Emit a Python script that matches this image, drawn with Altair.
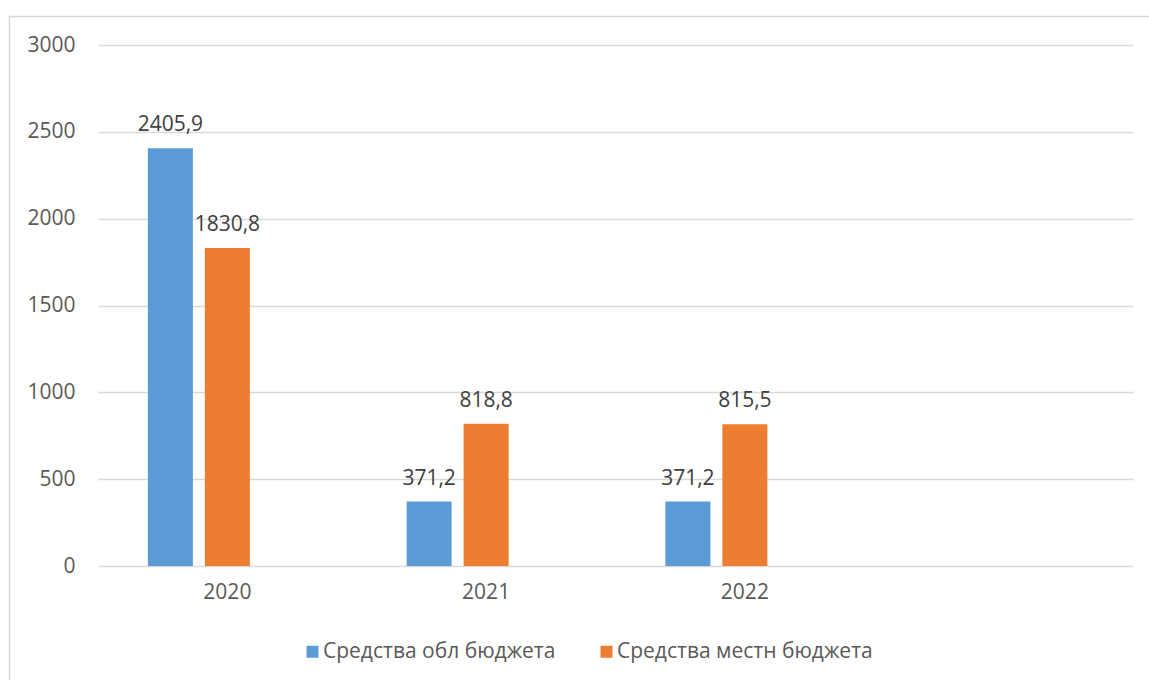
import altair as alt
import pandas as pd

years = ["2020", "2021", "2022"]
all_slots = ["2020", "2021", "2022", " "]
series_names = ["Средства обл бюджета", "Средства местн бюджета"]
series_keys = ["s1", "s2"]
offset_slots = ["s1", "s2", "s3"]
obl_values = [2405.9, 371.2, 371.2]
mestn_values = [1830.8, 818.8, 815.5]
colors = ["#5B9BD5", "#ED7D31"]

rows = []
for i, y in enumerate(years):
    rows.append({"year": y, "key": series_keys[0], "name": series_names[0], "value": obl_values[i]})
    rows.append({"year": y, "key": series_keys[1], "name": series_names[1], "value": mestn_values[i]})
df = pd.DataFrame(rows)

FONT = "Open Sans"
FS = 21

base = alt.Chart(df).transform_calculate(
    label="replace(format(datum.value, '.1f'), '.', ',')"
)

x_enc = alt.X(
    "year:N",
    scale=alt.Scale(domain=all_slots, paddingInner=0, paddingOuter=0),
    sort=all_slots,
    axis=alt.Axis(title=None, labelAngle=0, domain=False, ticks=False,
                  labelPadding=15, labelFontSize=FS, labelColor="#595959",
                  labelFont=FONT, grid=False),
)
xo_enc = alt.XOffset(
    "key:N",
    scale=alt.Scale(domain=offset_slots, paddingInner=0.2105, paddingOuter=0.875),
)
y_enc = alt.Y(
    "value:Q",
    scale=alt.Scale(domain=[0, 3000], nice=False),
    axis=alt.Axis(title=None, values=[0, 500, 1000, 1500, 2000, 2500, 3000],
                  format="d", domain=False, ticks=False, labelPadding=23,
                  labelFontSize=FS, labelColor="#595959", labelFont=FONT,
                  gridColor="#d9d9d9", gridWidth=1.3),
)

bars = base.mark_bar().encode(
    x=x_enc,
    xOffset=xo_enc,
    y=y_enc,
    color=alt.Color(
        "name:N",
        scale=alt.Scale(domain=series_names, range=colors),
        legend=alt.Legend(
            title=None, orient="none", direction="horizontal",
            legendX=204, legendY=596, symbolType="square", symbolSize=144,
            symbolStrokeWidth=0, labelFontSize=FS, labelFont=FONT,
            labelColor="#595959", labelOffset=0, columnPadding=40,
            labelLimit=0, padding=0,
        ),
    ),
)

labels = base.mark_text(
    dy=-17, baseline="alphabetic", fontSize=FS, font=FONT, color="#404040"
).encode(
    x=x_enc,
    xOffset=xo_enc,
    y="value:Q",
    text="label:N",
)

border = alt.Chart(alt.Data(values=[{}])).mark_rect(
    fill="transparent", stroke="#d9d9d9", strokeWidth=1.5
).encode(
    x=alt.value(-88.5), x2=alt.value(1070), y=alt.value(-28.5), y2=alt.value(700)
)

chart = alt.layer(border, bars, labels).properties(
    width=1035, height=521,
    autosize=alt.AutoSizeParams(type="none"),
    padding={"left": 98, "top": 45, "right": 16, "bottom": 114},
    background="white",
).configure_view(stroke=None)

chart.save("out.html", embed_options={"renderer": "svg", "actions": False})
